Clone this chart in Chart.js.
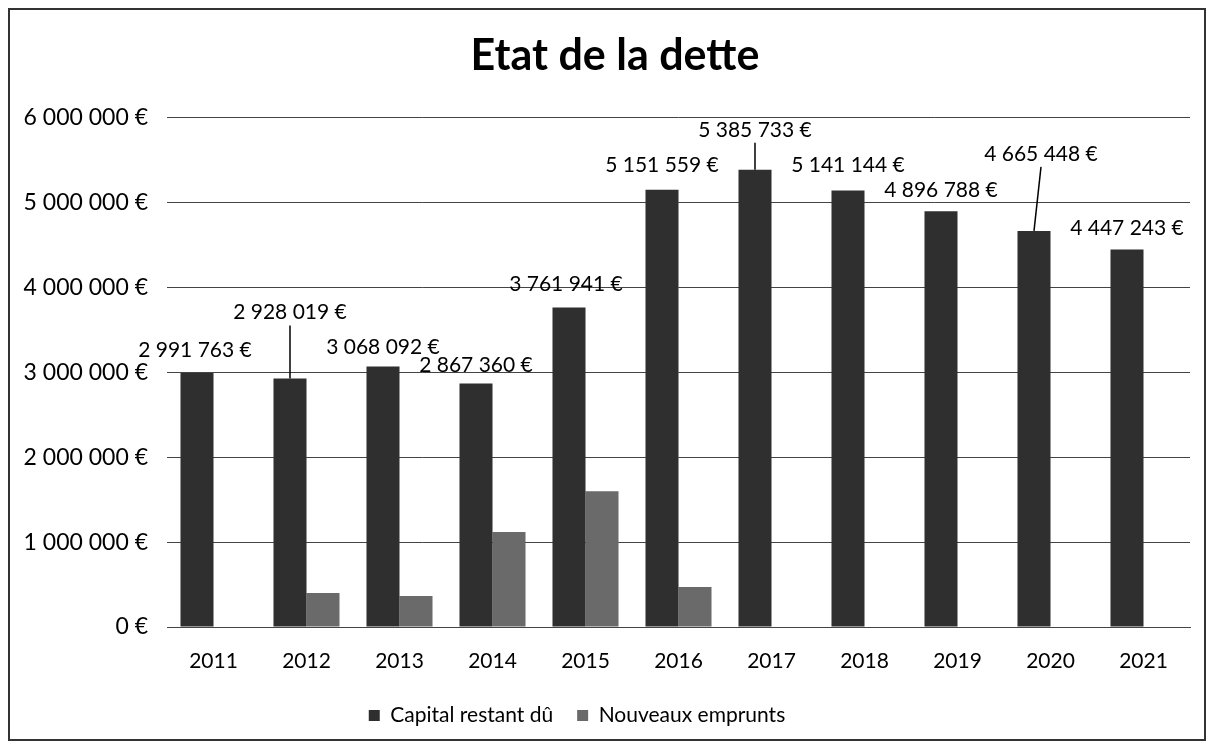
<!DOCTYPE html>
<html><head><meta charset="utf-8">
<script src="https://cdn.jsdelivr.net/npm/chart.js@4.4.0/dist/chart.umd.min.js"></script>
<style>html,body{margin:0;padding:0;background:#fff;overflow:hidden;} #wrap{position:absolute;left:0;top:0;width:1214px;height:744px;}</style>
</head><body><div id="wrap"><canvas id="c" width="1214" height="744"></canvas></div>
<script>
const categories = ['2011','2012','2013','2014','2015','2016','2017','2018','2019','2020','2021'];
const capitalRestantDu = [2991763, 2928019, 3068092, 2867360, 3761941, 5151559, 5385733, 5141144, 4896788, 4665448, 4447243];
const nouveauxEmprunts = [0, 400000, 365000, 1120000, 1600000, 470000, 0, 0, 0, 0, 0];
const yTickLabels = ['0 €','1 000 000 €','2 000 000 €','3 000 000 €','4 000 000 €','5 000 000 €','6 000 000 €'];
const seriesNames = ['Capital restant dû','Nouveaux emprunts'];
// label placement relative to bar top (dx, dy of text centre), and leader lines
const labelOffsets = [[-2,-23],[0,-66],[0,-19],[0,-18],[-3,-23],[0,-24],[0,-40],[0,-25],[0,-21],[7,-77],[0,-21]];
const leaderLines = [false,true,false,false,false,false,true,false,false,true,false];

const FONT = 'Lato, "Open Sans", sans-serif';
function fmt(v){ return String(Math.round(v)).replace(/\B(?=(\d{3})+(?!\d))/g,' ') + ' €'; }

const framePlugin = {
  id:'frame',
  beforeDraw(chart){
    const ctx = chart.ctx;
    ctx.save();
    ctx.fillStyle='#fff'; ctx.fillRect(0,0,chart.width,chart.height);
    ctx.strokeStyle='#333'; ctx.lineWidth=2;
    ctx.strokeRect(9,9,1196,731);
    ctx.restore();
  }
};
const blockShift = {
  id:'blockShift',
  afterLayout(chart){
    const lg = chart.legend;
    if (lg) { lg.left -= 18; lg.right -= 18; }
    const tb = chart.titleBlock;
    if (tb) { tb.left += 20; tb.right += 20; }
  }
};
const labelPlugin = {
  id:'barLabels',
  afterDatasetsDraw(chart){
    const ctx = chart.ctx;
    const meta = chart.getDatasetMeta(0);
    ctx.save();
    ctx.font = '21px ' + FONT;
    ctx.fillStyle = '#000';
    ctx.textAlign = 'center';
    ctx.textBaseline = 'middle';
    meta.data.forEach((bar, i) => {
      const [dx, dy] = labelOffsets[i];
      const x = bar.x + dx, y = bar.y + dy;
      ctx.fillText(fmt(capitalRestantDu[i]), x, y);
      if (leaderLines[i]) {
        ctx.beginPath();
        ctx.strokeStyle = '#000'; ctx.lineWidth = 1.5;
        ctx.moveTo(x, y + 13);
        ctx.lineTo(bar.x, bar.y);
        ctx.stroke();
      }
    });
    ctx.restore();
  }
};

new Chart(document.getElementById('c'), {
  type:'bar',
  data:{
    labels: categories,
    datasets:[
      {label: seriesNames[0], data: capitalRestantDu, backgroundColor:'#2f2f2f', borderWidth:0},
      {label: seriesNames[1], data: nouveauxEmprunts, backgroundColor:'#6a6a6a', borderWidth:0}
    ]
  },
  options:{
    responsive:false, animation:false, devicePixelRatio:1,
    layout:{padding:{left:0,right:24,top:8,bottom:8}},
    datasets:{bar:{categoryPercentage:0.71, barPercentage:1.0}},
    scales:{
      y:{
        min:0, max:6000000,
        afterFit(s){ s.width = 167; },
        ticks:{stepSize:1000000, padding:19, color:'#000', font:{family:FONT,size:23},
          callback:(v)=> yTickLabels[Math.round(v/1000000)]},
        grid:{color:'#444', lineWidth:1, drawTicks:false},
        border:{display:false}
      },
      x:{
        afterFit(s){ s.height = 54; },
        ticks:{color:'#000', padding:22, font:{family:FONT,size:21}},
        grid:{display:false, drawTicks:false},
        border:{display:true, color:'#444'}
      }
    },
    plugins:{
      title:{display:true, text:'Etat de la dette', color:'#000',
        font:{family:FONT, size:43, weight:'bold'}, padding:{top:22,bottom:36}},
      legend:{position:'bottom', labels:{boxWidth:11, boxHeight:11, color:'#000', padding:24,
        font:{family:FONT,size:21}}},
      tooltip:{enabled:false}
    }
  },
  plugins:[framePlugin, blockShift, labelPlugin]
});
</script></body></html>
